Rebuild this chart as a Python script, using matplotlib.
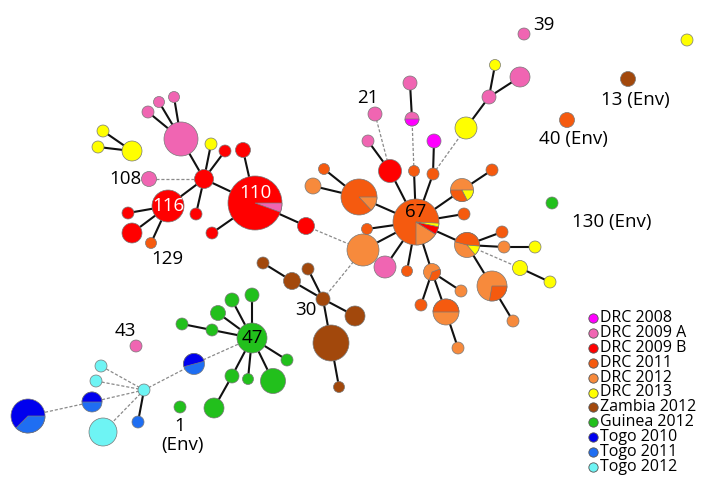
import matplotlib
matplotlib.use("Agg")
import matplotlib.pyplot as plt
from matplotlib.patches import Circle, Wedge

plt.rcParams['font.family'] = ['Open Sans', 'DejaVu Sans']

W, H = 707, 479

# group colours / legend
groups = ["DRC 2008", "DRC 2009 A", "DRC 2009 B", "DRC 2011", "DRC 2012", "DRC 2013",
          "Zambia 2012", "Guinea 2012", "Togo 2010", "Togo 2011", "Togo 2012"]
colors = ["#FF00FF", "#F065B2", "#FF0000", "#F55A0F", "#F78A3C", "#FFFF00",
          "#A2480C", "#22C01C", "#0000EE", "#1F6EF2", "#6EF4F4"]
col = dict(zip(["M", "A", "B", "D11", "D12", "Y", "Z", "G", "T10", "T11", "T12"], colors))

# nodes: id, x, y (pixel layout), radius, main group
node_ids = ["p1", "p2", "p3", "pbig", "y1", "y2", "ybig", "y3", "r1", "r2", "rhub", "p108",
            "r116", "r3", "r4", "o129", "r5", "r110", "r6", "r7",
            "o1", "o2", "obig1", "h67", "red21", "pA", "p21", "o3", "pm", "pA2", "o4", "mag",
            "ybig2", "pA3", "y4", "pA4", "pie1", "o5", "o6", "pie2", "o7", "o8", "y5", "y6", "y7",
            "pie3", "o9", "pie4", "o10", "o11", "pie5", "o12", "o13", "pk", "obig2", "o14",
            "p39", "yiso", "b13", "o40", "g130",
            "z1", "z2", "z3", "z30", "z4", "zbig", "z5",
            "g47", "g1", "g2", "g3", "g4", "g5", "g6", "g7", "g8", "g9", "g10", "genv", "pk43",
            "t1", "thub", "t2", "t3", "t4", "tbig", "t5", "t6"]
node_x = [174, 159, 148, 181, 103, 98, 132, 211, 225, 243, 204, 149,
          168, 128, 132, 151, 196, 255, 212, 306,
          313, 324, 359, 416, 390, 368, 375, 414, 412, 410, 433, 434,
          466, 489, 495, 520, 462, 492, 464, 467, 502, 504, 535, 520, 550,
          492, 513, 432, 461, 421, 446, 458, 407, 385, 363, 367,
          524, 687, 628, 567, 552,
          263, 292, 308, 323, 355, 331, 339,
          252, 252, 232, 218, 182, 212, 287, 273, 248, 232, 214, 180, 136,
          194, 144, 101, 96, 92, 28, 138, 103]
node_y = [97, 102, 112, 139, 131, 147, 151, 144, 151, 150, 179, 179,
          206, 213, 233, 243, 214, 203, 233, 226,
          186, 169, 197, 222, 171, 141, 114, 171, 119, 83, 174, 141,
          128, 97, 65, 77, 190, 170, 214, 245, 232, 247, 247, 268, 282,
          286, 321, 272, 291, 305, 312, 348, 271, 267, 250, 229,
          34, 40, 79, 120, 203,
          263, 281, 269, 299, 316, 343, 387,
          338, 295, 300, 313, 324, 330, 360, 381, 379, 376, 408, 407, 346,
          364, 390, 366, 381, 402, 416, 422, 432]
node_r = [5.5, 5.5, 6, 17, 6, 6, 10, 6, 6, 7.5, 9.5, 7.5,
          16, 6, 10, 5.5, 6, 27, 6, 8.5,
          8, 5.5, 18, 23, 11.5, 6, 7, 5.5, 7, 7, 6, 7,
          11, 7, 5.5, 10, 11.5, 6, 6, 12.5, 6, 6, 6, 7.5, 6,
          15, 6, 8.5, 6, 6, 13, 6, 5.5, 11, 16, 5.5,
          6, 6, 7.5, 7.5, 6,
          6, 8.5, 6, 7, 10, 18, 5.5,
          15, 7, 7, 7.5, 6, 6, 6, 12.5, 5.5, 7, 10, 6, 6,
          10.5, 6, 6, 6, 10, 17, 6, 14]
node_group = ["A", "A", "A", "A", "Y", "Y", "Y", "Y", "B", "B", "B", "A",
              "B", "B", "B", "D11", "B", "B", "B", "B",
              "D12", "D11", "D11", "D11", "B", "A", "A", "D11", "A", "A", "D11", "M",
              "Y", "A", "Y", "A", "D12", "D11", "D11", "D12", "D11", "D12", "Y", "Y", "Y",
              "D12", "D12", "D12", "D12", "D11", "D12", "D12", "D11", "A", "D12", "D11",
              "A", "Y", "Z", "D11", "G",
              "Z", "Z", "Z", "Z", "Z", "Z", "Z",
              "G", "G", "G", "G", "G", "G", "G", "G", "G", "G", "G", "G", "A",
              "T11", "T12", "T12", "T12", "T11", "T10", "T11", "T12"]

# extra pie slices (group, start angle, end angle) laid over the main colour
pie_slices = {
    "r110": [("A", -20, 0)],
    "obig1": [("D12", -47, 0)],
    "h67": [("D12", -90, -32), ("B", -32, -12), ("Y", -12, -3)],
    "pm": [("M", 180, 360)],
    "pie1": [("D11", 180, 297), ("Y", 297, 360)],
    "pie2": [("D11", -5, 165), ("Y", -50, -5)],
    "pie3": [("D11", -100, 0)],
    "pie4": [("D11", -110, 20)],
    "pie5": [("D11", 0, 180)],
    "t1": [("T10", 15, 195)],
    "t4": [("T10", 0, 180)],
    "tbig": [("T11", -135, 0)],
}

solid_edges = [("pbig", "rhub"), ("pbig", "p1"), ("pbig", "p2"), ("pbig", "p3"),
               ("ybig", "y1"), ("ybig", "y2"),
               ("rhub", "y3"), ("rhub", "r1"), ("rhub", "r116"), ("rhub", "r5"), ("rhub", "r110"),
               ("r116", "r3"), ("r116", "r4"), ("r116", "o129"),
               ("r110", "r2"), ("r110", "r6"), ("r110", "r7"),
               ("obig1", "o1"), ("obig1", "o2"), ("obig1", "h67"),
               ("h67", "red21"), ("h67", "o3"), ("h67", "o4"), ("h67", "pie1"), ("h67", "o6"),
               ("h67", "pie2"), ("h67", "pie4"), ("h67", "o13"), ("h67", "pk"), ("h67", "obig2"),
               ("h67", "o14"),
               ("red21", "pA"), ("pm", "pA2"), ("o4", "mag"), ("ybig2", "pA3"), ("pA3", "y4"),
               ("pA3", "pA4"), ("pie1", "o5"), ("pie2", "o7"), ("pie2", "o8"), ("pie2", "pie3"),
               ("o8", "y5"), ("y6", "y7"), ("pie3", "o9"),
               ("pie4", "o10"), ("pie4", "o11"), ("pie4", "pie5"), ("pie5", "o12"),
               ("z30", "z2"), ("z30", "z3"), ("z30", "z4"), ("z30", "zbig"), ("z2", "z1"), ("zbig", "z5"),
               ("g47", "g1"), ("g47", "g2"), ("g47", "g3"), ("g47", "g5"), ("g47", "g6"),
               ("g47", "g7"), ("g47", "g8"), ("g47", "g9"), ("g5", "g4"), ("g9", "g10"),
               ("thub", "t5")]
dashed_edges = [("rhub", "p108"), ("red21", "p21"), ("o3", "pm"), ("o4", "ybig2"), ("pie2", "y6"),
                ("r7", "obig2"), ("z30", "obig2"), ("thub", "t2"), ("thub", "t3"), ("thub", "t4"),
                ("thub", "t6"), ("thub", "t1"), ("t1", "g47"), ("t4", "tbig")]

# text labels: text, x, y, colour
label_txt = ["110", "116", "67", "47", "108", "129", "21", "39", "13 (Env)", "40 (Env)",
             "130 (Env)", "30", "43", "1", "(Env)"]
label_x = [255, 168, 416, 252, 125, 167, 368, 544, 635, 573, 612, 306, 125, 180, 182]
label_y = [193, 206, 212, 338, 179, 259, 98, 25, 100, 139, 222, 310, 331, 426, 445]
label_c = ["white", "white", "black", "black"] + ["black"] * 11

fig = plt.figure(figsize=(W / 100, H / 100), dpi=100)
ax = fig.add_axes([0, 0, 1, 1])
ax.set_xlim(0, W)
ax.set_ylim(0, H)
ax.set_aspect('equal')
ax.axis('off')

pos = {n: (x, H - y) for n, x, y in zip(node_ids, node_x, node_y)}

for a, b in solid_edges:
    ax.plot([pos[a][0], pos[b][0]], [pos[a][1], pos[b][1]], color='#111111', lw=1.5, zorder=1)
for a, b in dashed_edges:
    ax.plot([pos[a][0], pos[b][0]], [pos[a][1], pos[b][1]], color='#8a8a8a', lw=0.9,
            ls=(0, (2.5, 1.5)), zorder=1)

for n, r, g in zip(node_ids, node_r, node_group):
    cx, cy = pos[n]
    ax.add_patch(Circle((cx, cy), r, facecolor=col[g], edgecolor='#777777', lw=0.5, zorder=2))
    for sg, t1, t2 in pie_slices.get(n, []):
        ax.add_patch(Wedge((cx, cy), r, t1, t2, facecolor=col[sg], edgecolor='#777777',
                           lw=0.5, zorder=3))

for t, x, y, c in zip(label_txt, label_x, label_y, label_c):
    ax.text(x, H - y, t, color=c, fontsize=13.5, ha='center', va='center', zorder=4)

# legend
for i, (name, c) in enumerate(zip(groups, colors)):
    ly = H - (318 + i * 14.9)
    ax.scatter([593], [ly], s=45, color=c, edgecolor='#555555', linewidth=0.6, zorder=4)
    ax.text(600, ly, name, fontsize=11.5, ha='left', va='center', zorder=4)

fig.savefig("out.png", dpi=100)
